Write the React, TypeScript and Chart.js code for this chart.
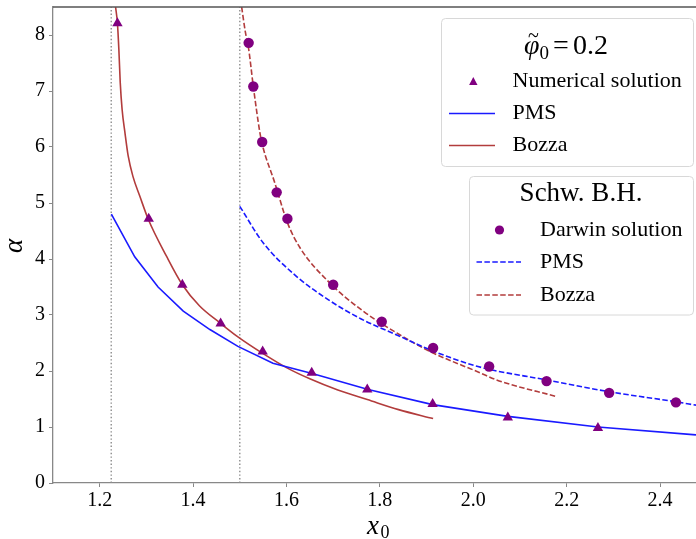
import React, { useEffect, useRef } from "react";
import { Chart, registerables } from "chart.js";

Chart.register(...registerables);

// ---- data ----
const xTicks = [1.2, 1.4, 1.6, 1.8, 2.0, 2.2, 2.4];
const yTicks = [0, 1, 2, 3, 4, 5, 6, 7, 8];

// photon-sphere asymptotes (dotted verticals)
const asymptoteX = [1.2247, 1.5];

// phi0 = 0.2 : numerical solution (triangles)
const numericalX = [1.238, 1.305, 1.377, 1.459, 1.549, 1.654, 1.773, 1.913, 2.074, 2.267];
const numericalY = [8.21, 4.72, 3.54, 2.85, 2.35, 1.97, 1.67, 1.41, 1.17, 0.98];

// phi0 = 0.2 : PMS (solid blue)
const pmsX = [1.225, 1.275, 1.325, 1.379, 1.436, 1.496, 1.571, 1.657, 1.775, 1.913, 2.074, 2.267, 2.477];
const pmsY = [4.8, 4.04, 3.5, 3.07, 2.74, 2.44, 2.14, 1.95, 1.67, 1.4, 1.19, 1.0, 0.86];

// phi0 = 0.2 : Bozza (solid brown)
const bozzaX = [1.234, 1.238, 1.241, 1.244, 1.248, 1.254, 1.261, 1.271, 1.286, 1.304, 1.343, 1.377, 1.414, 1.459, 1.496, 1.55, 1.6, 1.65, 1.71, 1.773, 1.84, 1.914];
const bozzaY = [8.5, 8.21, 7.75, 7.15, 6.67, 6.26, 5.84, 5.48, 5.12, 4.71, 4.05, 3.54, 3.16, 2.85, 2.61, 2.31, 2.06, 1.86, 1.66, 1.49, 1.31, 1.15];

// Schwarzschild : Darwin solution (circles)
const darwinX = [1.519, 1.529, 1.548, 1.579, 1.602, 1.7, 1.804, 1.914, 2.034, 2.157, 2.291, 2.434];
const darwinY = [7.86, 7.08, 6.09, 5.19, 4.72, 3.54, 2.88, 2.41, 2.08, 1.82, 1.61, 1.44];

// Schwarzschild : PMS (dashed blue)
const pmsSchwX = [1.5, 1.55, 1.62, 1.69, 1.76, 1.84, 1.91, 2.01, 2.157, 2.291, 2.434, 2.477];
const pmsSchwY = [4.94, 4.29, 3.7, 3.27, 2.93, 2.63, 2.37, 2.08, 1.84, 1.63, 1.45, 1.39];

// Schwarzschild : Bozza (dashed brown)
const bozzaSchwX = [1.504, 1.512, 1.519, 1.529, 1.543, 1.548, 1.575, 1.602, 1.629, 1.693, 1.764, 1.836, 1.907, 2.014, 2.05, 2.18];
const bozzaSchwY = [8.5, 8.05, 7.75, 7.08, 6.26, 6.05, 5.36, 4.65, 4.2, 3.57, 3.07, 2.68, 2.35, 1.97, 1.84, 1.54];

const X_MIN = 1.1;
const X_MAX = 2.477;
const Y_MIN = 0;
const Y_MAX = 8.5;

const PURPLE = "#800080";
const BLUE = "#1a1aff";
const BROWN = "#b23c3c";
const SERIF = "'Liberation Serif', 'Times New Roman', serif";

const pts = (xs: number[], ys: number[]) => xs.map((x, i) => ({ x, y: ys[i] }));

function drawLegendBox(ctx: CanvasRenderingContext2D, x: number, y: number, w: number, h: number) {
  ctx.save();
  ctx.beginPath();
  const r = 4;
  ctx.moveTo(x + r, y);
  ctx.lineTo(x + w - r, y);
  ctx.quadraticCurveTo(x + w, y, x + w, y + r);
  ctx.lineTo(x + w, y + h - r);
  ctx.quadraticCurveTo(x + w, y + h, x + w - r, y + h);
  ctx.lineTo(x + r, y + h);
  ctx.quadraticCurveTo(x, y + h, x, y + h - r);
  ctx.lineTo(x, y + r);
  ctx.quadraticCurveTo(x, y, x + r, y);
  ctx.closePath();
  ctx.fillStyle = "rgba(255,255,255,0.85)";
  ctx.fill();
  ctx.strokeStyle = "#d8d8d8";
  ctx.lineWidth = 1;
  ctx.stroke();
  ctx.restore();
}

function legendLine(ctx: CanvasRenderingContext2D, x1: number, x2: number, y: number, color: string, dash: number[]) {
  ctx.save();
  ctx.strokeStyle = color;
  ctx.lineWidth = 1.6;
  ctx.setLineDash(dash);
  ctx.beginPath();
  ctx.moveTo(x1, y);
  ctx.lineTo(x2, y);
  ctx.stroke();
  ctx.restore();
}

function legendText(ctx: CanvasRenderingContext2D, text: string, x: number, y: number) {
  ctx.save();
  ctx.font = `22px ${SERIF}`;
  ctx.fillStyle = "#000";
  ctx.textAlign = "left";
  ctx.textBaseline = "middle";
  ctx.fillText(text, x, y);
  ctx.restore();
}

const decorPlugin = {
  id: "decor",
  afterDraw(chart: any) {
    const ctx: CanvasRenderingContext2D = chart.ctx;
    const a = chart.chartArea;
    ctx.save();
    // top spine
    ctx.strokeStyle = "#555";
    ctx.lineWidth = 1.3;
    ctx.beginPath();
    ctx.moveTo(a.left, a.top);
    ctx.lineTo(a.right, a.top);
    ctx.stroke();

    // y axis title (alpha)
    ctx.save();
    ctx.translate(15, 246);
    ctx.rotate(-Math.PI / 2);
    ctx.font = `italic 27px ${SERIF}`;
    ctx.fillStyle = "#000";
    ctx.textAlign = "center";
    ctx.textBaseline = "middle";
    ctx.fillText("α", 0, 0);
    ctx.restore();

    // x axis title (x_0)
    ctx.fillStyle = "#000";
    ctx.textBaseline = "alphabetic";
    ctx.textAlign = "left";
    ctx.font = `italic 27px ${SERIF}`;
    ctx.fillText("x", 367, 534);
    ctx.font = `18px ${SERIF}`;
    ctx.fillText("0", 380.5, 538);

    // ---- legend 1 ----
    drawLegendBox(ctx, 441.5, 18.5, 252, 148);
    // title  φ̃0 = 0.2
    {
      const cx = 566;
      const by = 54;
      ctx.font = `italic 28px ${SERIF}`;
      const wPhi = ctx.measureText("φ").width;
      ctx.font = `19px ${SERIF}`;
      const wSub = ctx.measureText("0").width;
      ctx.font = `28px ${SERIF}`;
      const wEq = ctx.measureText("=").width;
      const wNum = ctx.measureText("0.2").width;
      const gap = 4;
      const total = wPhi + wSub + gap + wEq + gap + wNum;
      let x = cx - total / 2;
      ctx.font = `italic 28px ${SERIF}`;
      ctx.fillText("φ", x, by);
      ctx.font = `20px ${SERIF}`;
      ctx.fillText("~", x + 4, by - 12);
      x += wPhi;
      ctx.font = `19px ${SERIF}`;
      ctx.fillText("0", x, by + 5);
      x += wSub + gap;
      ctx.font = `28px ${SERIF}`;
      ctx.fillText("=", x, by);
      x += wEq + gap;
      ctx.fillText("0.2", x, by);
    }
    // triangle marker
    ctx.save();
    ctx.fillStyle = PURPLE;
    ctx.beginPath();
    ctx.moveTo(473.3, 77);
    ctx.lineTo(477.5, 85);
    ctx.lineTo(469.1, 85);
    ctx.closePath();
    ctx.fill();
    ctx.restore();
    legendText(ctx, "Numerical solution", 512.5, 81.5);
    legendLine(ctx, 449, 495, 113.5, BLUE, []);
    legendText(ctx, "PMS", 512.5, 113.5);
    legendLine(ctx, 449, 495, 145.5, BROWN, []);
    legendText(ctx, "Bozza", 512.5, 145.5);

    // ---- legend 2 ----
    drawLegendBox(ctx, 469.5, 176.5, 224, 138.5);
    ctx.font = `27px ${SERIF}`;
    ctx.fillStyle = "#000";
    ctx.textAlign = "center";
    ctx.textBaseline = "middle";
    ctx.fillText("Schw. B.H.", 581, 194);
    ctx.textAlign = "left";
    ctx.save();
    ctx.fillStyle = PURPLE;
    ctx.beginPath();
    ctx.arc(499.5, 230, 4.6, 0, Math.PI * 2);
    ctx.fill();
    ctx.restore();
    legendText(ctx, "Darwin solution", 540, 230);
    legendLine(ctx, 476.5, 521, 262, BLUE, [5.5, 2.4]);
    legendText(ctx, "PMS", 540, 262);
    legendLine(ctx, 476.5, 521, 295, BROWN, [5.5, 2.4]);
    legendText(ctx, "Bozza", 540, 295);

    ctx.restore();
  },
};

const zeroPad = (s: any) => {
  s.paddingTop = 0;
  s.paddingBottom = 0;
  s.paddingLeft = 0;
  s.paddingRight = 0;
};

export default function App() {
  const ref = useRef<HTMLCanvasElement>(null);

  useEffect(() => {
    if (!ref.current) return;
    const tickFont = { family: SERIF, size: 20 };
    const chart = new Chart(ref.current, {
      type: "scatter",
      data: {
        datasets: [
          {
            label: "Numerical solution",
            data: pts(numericalX, numericalY),
            pointStyle: "triangle",
            pointRadius: 6,
            backgroundColor: PURPLE,
            borderColor: PURPLE,
            borderWidth: 0,
            showLine: false,
            order: 0,
          },
          {
            label: "Darwin solution",
            data: pts(darwinX, darwinY),
            pointStyle: "circle",
            pointRadius: 5.2,
            backgroundColor: PURPLE,
            borderColor: PURPLE,
            borderWidth: 0,
            showLine: false,
            order: 0,
          },
          {
            label: "PMS",
            data: pts(pmsX, pmsY),
            showLine: true,
            pointRadius: 0,
            borderColor: BLUE,
            borderWidth: 1.6,
            order: 1,
          },
          {
            label: "Bozza",
            data: pts(bozzaX, bozzaY),
            showLine: true,
            pointRadius: 0,
            borderColor: BROWN,
            borderWidth: 1.6,
            cubicInterpolationMode: "monotone",
            order: 1,
          },
          {
            label: "PMS (Schw.)",
            data: pts(pmsSchwX, pmsSchwY),
            showLine: true,
            pointRadius: 0,
            borderColor: BLUE,
            borderWidth: 1.6,
            borderDash: [5.5, 2.4],
            cubicInterpolationMode: "monotone",
            order: 1,
          },
          {
            label: "Bozza (Schw.)",
            data: pts(bozzaSchwX, bozzaSchwY),
            showLine: true,
            pointRadius: 0,
            borderColor: BROWN,
            borderWidth: 1.6,
            borderDash: [5.5, 2.4],
            cubicInterpolationMode: "monotone",
            order: 1,
          },
          ...asymptoteX.map((xv) => ({
            label: "asymptote",
            data: [
              { x: xv, y: Y_MIN },
              { x: xv, y: Y_MAX },
            ],
            showLine: true,
            pointRadius: 0,
            borderColor: "#8c8c8c",
            borderWidth: 1.4,
            borderDash: [1.4, 2.2],
            order: 2,
          })),
        ],
      },
      options: {
        responsive: false,
        animation: false,
        devicePixelRatio: 1,
        layout: { autoPadding: false, padding: { top: 7, left: 0, right: 0, bottom: 0 } },
        plugins: {
          legend: { display: false },
          tooltip: { enabled: false },
        },
        scales: {
          x: {
            type: "linear",
            min: X_MIN,
            max: X_MAX,
            afterBuildTicks: (s: any) => {
              s.ticks = xTicks.map((v) => ({ value: v }));
            },
            afterFit: (s: any) => {
              s.height = 56;
              zeroPad(s);
            },
            ticks: {
              callback: (v: any) => Number(v).toFixed(1),
              font: tickFont,
              color: "#000",
              padding: 2,
              maxRotation: 0,
              autoSkip: false,
            },
            grid: {
              drawOnChartArea: false,
              drawTicks: true,
              tickLength: 4,
              color: "#888",
            },
            border: { display: true, color: "#888", width: 1.3 },
          },
          y: {
            type: "linear",
            min: Y_MIN,
            max: Y_MAX,
            afterBuildTicks: (s: any) => {
              s.ticks = yTicks.map((v) => ({ value: v }));
            },
            afterFit: (s: any) => {
              s.width = 53;
              zeroPad(s);
            },
            ticks: {
              callback: (v: any) => String(v),
              font: tickFont,
              color: "#000",
              padding: 4,
              autoSkip: false,
            },
            grid: {
              drawOnChartArea: false,
              drawTicks: true,
              tickLength: 4,
              color: "#888",
            },
            border: { display: true, color: "#888", width: 1.3 },
          },
        },
      },
      plugins: [decorPlugin],
    } as any);
    return () => chart.destroy();
  }, []);

  return (
    <div style={{ position: "absolute", left: 0, top: 0, width: 696, height: 539, background: "#fff" }}>
      <canvas ref={ref} width={696} height={539} style={{ display: "block", width: 696, height: 539 }} />
    </div>
  );
}
